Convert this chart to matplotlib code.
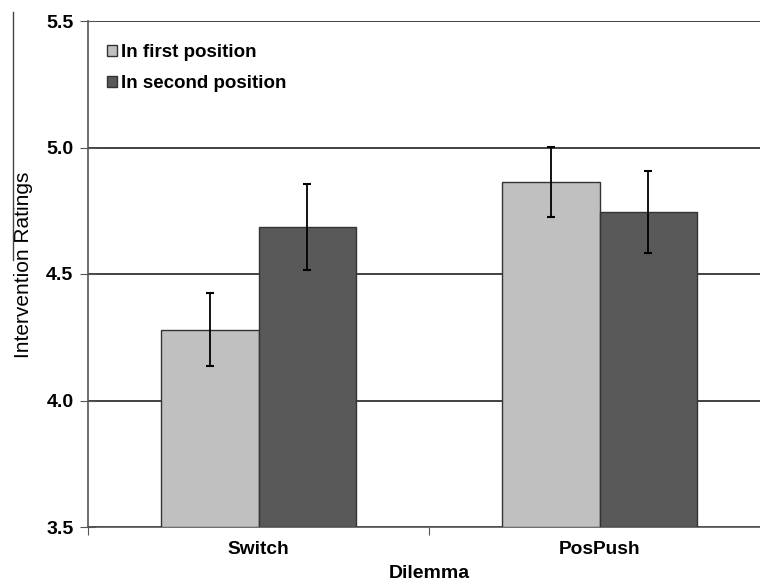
import numpy as np
import matplotlib
matplotlib.use("Agg")
import matplotlib.pyplot as plt
from matplotlib.lines import Line2D

plt.rcParams['font.family'] = ['Liberation Sans', 'DejaVu Sans']

dilemmas = ['Switch', 'PosPush']
series = ['In first position', 'In second position']
first_pos = [4.28, 4.865]
second_pos = [4.685, 4.745]
first_err = [0.145, 0.138]
second_err = [0.17, 0.163]

colors = ['#c0c0c0', '#595959']

fig = plt.figure(figsize=(7.6, 5.84), dpi=100)
ax = fig.add_axes([88 / 760, 1 - 527 / 584, 682 / 760, 506 / 584])

x = np.array([0.5, 1.5])
w = 0.2845
for vals, errs, off, col, lab in [(first_pos, first_err, -w / 2, colors[0], series[0]),
                                  (second_pos, second_err, w / 2, colors[1], series[1])]:
    ax.bar(x + off, np.array(vals) - 3.5, width=w, bottom=3.5, color=col,
           edgecolor='#333333', linewidth=1.0, label=lab, zorder=3)
    ax.errorbar(x + off, vals, yerr=errs, fmt='none', ecolor='black',
                elinewidth=1.3, capsize=3, capthick=1.5, zorder=4)

ax.set_xlim(0, 2)
ax.set_ylim(3.5, 5.5)
ax.set_yticks([3.5, 4.0, 4.5, 5.0, 5.5])
ax.set_yticklabels(['3.5', '4.0', '4.5', '5.0', '5.5'], fontsize=14, fontweight='bold')
ax.yaxis.grid(True, color='#333333', linewidth=1.3, zorder=0)
ax.set_axisbelow(True)

ax.set_xticks([0, 1, 2])
ax.set_xticklabels(['', '', ''])
ax.set_xticks(x, minor=True)
ax.set_xticklabels(dilemmas, minor=True, fontsize=13.8, fontweight='bold')
ax.tick_params(axis='x', which='major', direction='out', length=5.5, color='#555555')
ax.tick_params(axis='x', which='minor', length=0, pad=10)
ax.tick_params(axis='y', direction='inout', length=11, color='#555555', pad=5)

for s in ['top', 'right']:
    ax.spines[s].set_visible(False)
for s in ['left', 'bottom']:
    ax.spines[s].set_color('#555555')
    ax.spines[s].set_linewidth(1.2)

ax.set_xlabel('Dilemma', fontsize=14, fontweight='bold')
ax.xaxis.set_label_coords(0.5, -0.075)
ax.set_ylabel('Intervention Ratings', fontsize=15)
ax.yaxis.set_label_coords(-0.081, 0.518)

leg = ax.legend(loc='upper left', bbox_to_anchor=(0.0279, 0.9545), frameon=False,
                prop={'size': 13.5, 'weight': 'bold'}, handlelength=0.53, handleheight=0.53,
                handletextpad=0.21, labelspacing=0.75, borderpad=0, borderaxespad=0)
for p in leg.get_patches():
    p.set_linewidth(1.0)

fig.add_artist(Line2D([13 / 760, 13 / 760], [1 - 12 / 584, 1 - 260 / 584],
                      transform=fig.transFigure, color='#444444', linewidth=1))

fig.savefig('out.png', dpi=100)
